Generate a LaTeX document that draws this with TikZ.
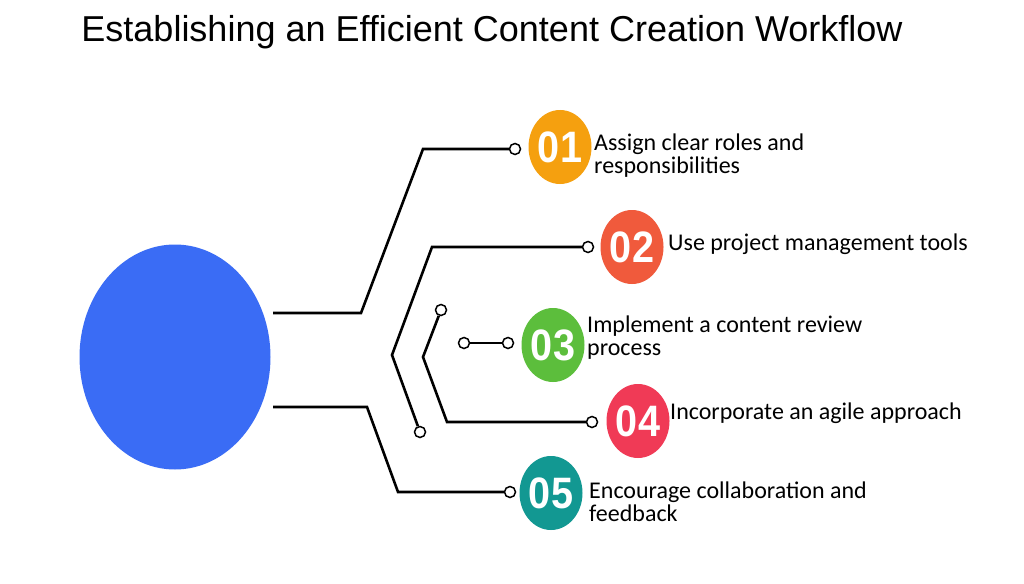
\documentclass[tikz,border=0pt]{standalone}
\usepackage{fontspec}
\setmainfont{Carlito}
\newfontfamily\titlefont{Liberation Sans}
\newfontfamily\numfont{Liberation Sans}
\usetikzlibrary{shapes.geometric}
\definecolor{cblue}{RGB}{58,108,245}
\definecolor{c1}{RGB}{245,160,15}
\definecolor{c2}{RGB}{240,90,60}
\definecolor{c3}{RGB}{92,190,60}
\definecolor{c4}{RGB}{240,58,86}
\definecolor{c5}{RGB}{18,152,146}
\tikzset{
  wire/.style={draw=black, line width=2.6pt, line join=miter},
  dot/.style={circle, draw=black, fill=white, line width=1.5pt, minimum size=11pt, inner sep=0pt},
  numball/.style={ellipse, minimum width=63pt, minimum height=74pt, inner sep=0pt, text=white,
    font=\numfont\bfseries\fontsize{44}{44}\selectfont},
  label/.style={anchor=base west, inner sep=0pt, align=left, font=\fontsize{24}{23.5}\selectfont}
}
\begin{document}
\begin{tikzpicture}[x=1pt,y=-1pt]
\useasboundingbox (0,0) rectangle (1024,583);
\fill[white] (0,0) rectangle (1024,583);
\node[anchor=base, inner sep=0pt, font=\titlefont\fontsize{36}{36}\selectfont] (title) at (492,42) {Establishing an Efficient Content Creation Workflow};
\node[ellipse, fill=cblue, minimum width=191pt, minimum height=225pt, inner sep=0pt] (hub) at (175,357) {};
% number balls
\node[numball, fill=c1] (n1) at (560,147) {\scalebox{0.9}[1]{01}};
\node[numball, fill=c2] (n2) at (632,247) {\scalebox{0.9}[1]{02}};
\node[numball, fill=c3] (n3) at (553,345) {\scalebox{0.9}[1]{03}};
\node[numball, fill=c4] (n4) at (638,421) {\scalebox{0.9}[1]{04}};
\node[numball, fill=c5] (n5) at (551,493) {\scalebox{0.9}[1]{05}};
% labels (base = baseline of last line)
\node[label] (t1) at (594,173.5) {Assign clear roles and\\responsibilities};
\node[label] (t2) at (668,250) {Use project management tools};
\node[label] (t3) at (587,355.5) {Implement a content review\\process};
\node[label] (t4) at (670,419) {Incorporate an agile approach};
\node[label] (t5) at (589,521.5) {Encourage collaboration and\\feedback};
% dots
\node[dot] (d1) at (515,149) {};
\node[dot] (d2) at (588,247) {};
\node[dot] (d2b) at (420,432) {};
\node[dot] (d4) at (592,422) {};
\node[dot] (d4b) at (441,310) {};
\node[dot] (d3a) at (464,343) {};
\node[dot] (d3b) at (508,343) {};
\node[dot] (d5) at (510,492) {};
% wires
\coordinate (h1) at (273,313);
\coordinate (h5) at (273,407);
\draw[wire] (h1) -- (361,313) -- (423,149) -- (d1);
\draw[wire] (d2) -- (432,247) -- (392,355) -- (d2b);
\draw[wire] (d4b) -- (423,357) -- (447,422) -- (d4);
\draw[wire] (d3a) -- (d3b);
\draw[wire] (h5) -- (367,407) -- (398,492) -- (d5);
\end{tikzpicture}
\end{document}
